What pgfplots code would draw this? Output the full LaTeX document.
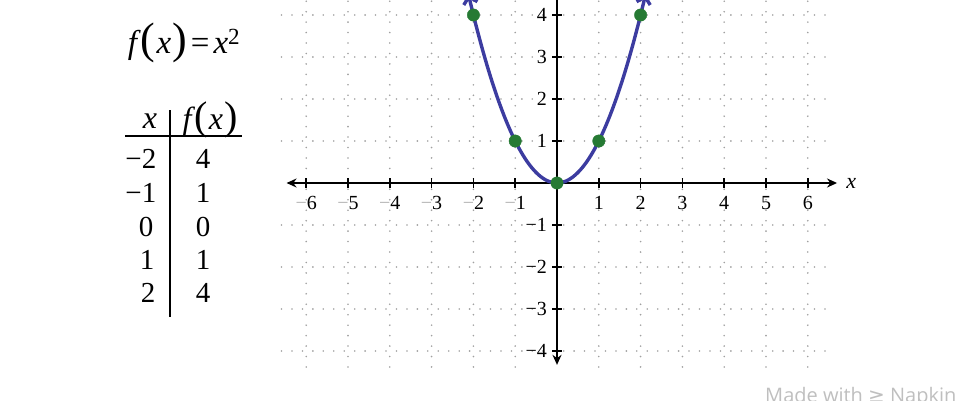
\documentclass[border=0pt]{standalone}
\usepackage{fontspec}
\setmainfont{Liberation Serif}
\newfontfamily\wmfont{Open Sans}
\newfontfamily\symfont{DejaVu Sans}
\usepackage{pgfplots}
\pgfplotsset{compat=1.18}
\usetikzlibrary{arrows.meta}
\definecolor{curveblue}{RGB}{60,60,160}
\definecolor{ptgreen}{RGB}{38,122,52}
\definecolor{gridgray}{RGB}{160,160,160}
\newcommand{\bp}[1]{{\fontsize{44}{44}\selectfont #1}}
\newcommand{\bpt}[1]{{\fontsize{40}{40}\selectfont #1}}
\begin{document}
\begin{tikzpicture}[x=1pt,y=1pt]
\begin{axis}[
  set layers,
  at={(557pt,217pt)}, anchor=origin,
  x=41.8pt, y=42pt,
  xmin=-6.47, xmax=6.70, ymin=-4.33, ymax=4.8,
  axis lines=middle,
  clip=false,
  x axis line style={line width=1.8pt, {Stealth[length=10pt,width=9pt]}-{Stealth[length=10pt,width=9pt]}},
  y axis line style={line width=2.6pt, {Stealth[length=10pt,width=9pt]}-{Stealth[length=10pt,width=9pt]}},
  major tick length=10pt, tick align=center,
  tick style={black, line width=1.6pt},
  xtick={-6,-5,-4,-3,-2,-1,1,2,3,4,5,6},
  xticklabels={{\color{gray!60}−}6,{\color{gray!60}−}5,{\color{gray!60}−}4,{\color{gray!60}−}3,{\color{gray!60}−}2,{\color{gray!60}−}1,1,2,3,4,5,6},
  ytick={-4,-3,-2,-1,1,2,3,4},
  yticklabels={−4,−3,−2,−1,1,2,3,4},
  xticklabel style={anchor=center, inner sep=0pt, yshift=-15pt, font=\fontsize{20}{22}\selectfont},
  yticklabel style={anchor=east, inner sep=0pt, xshift=-5pt, font=\fontsize{20}{22}\selectfont},
  xlabel={\itshape x},
  xlabel style={anchor=west, inner sep=0pt, xshift=9pt, font=\fontsize{22}{24}\selectfont},
]
\begin{pgfonlayer}{axis background}
\pgfplotsinvokeforeach{-6,-5,-4,-3,-2,-1,1,2,3,4,5,6}{
  \draw[gridgray, line width=1.8pt, line cap=round, dash pattern=on 0pt off 10.45pt] (axis cs:#1,-4.38) -- (axis cs:#1,4.8);
}
\pgfplotsinvokeforeach{-4,-3,-2,-1,1,2,3,4}{
  \draw[gridgray, line width=1.8pt, line cap=round, dash pattern=on 0pt off 10.45pt] (axis cs:-6.59,#1) -- (axis cs:6.53,#1);
}
\end{pgfonlayer}
\addplot[curveblue, line width=3.4pt, smooth, {Straight Barb[length=7pt,width=14pt]}-{Straight Barb[length=7pt,width=14pt]}] coordinates {
(-2.12,4.4944) (-2.0,4.0) (-1.9,3.61) (-1.8,3.24) (-1.7,2.89) (-1.6,2.56) (-1.5,2.25) (-1.4,1.96) (-1.3,1.69) (-1.2,1.44) (-1.1,1.21) (-1.0,1.0) (-0.9,0.81) (-0.8,0.64) (-0.7,0.49) (-0.6,0.36) (-0.5,0.25) (-0.4,0.16) (-0.3,0.09) (-0.2,0.04) (-0.1,0.01) (0,0) (0.1,0.01) (0.2,0.04) (0.3,0.09) (0.4,0.16) (0.5,0.25) (0.6,0.36) (0.7,0.49) (0.8,0.64) (0.9,0.81) (1.0,1.0) (1.1,1.21) (1.2,1.44) (1.3,1.69) (1.4,1.96) (1.5,2.25) (1.6,2.56) (1.7,2.89) (1.8,3.24) (1.9,3.61) (2.0,4.0) (2.12,4.4944)
};
\addplot[only marks, mark=*, mark size=6.2pt, color=ptgreen] coordinates {(-2,4) (-1,1) (0,0) (1,1) (2,4)};
\end{axis}
% left formula and table
\node[font=\fontsize{33}{36}\selectfont] at (184,357) {\itshape f\upshape\kern4pt\bp{(}\kern1pt\itshape x\upshape\kern1pt\bp{)}\kern4pt=\kern4pt\itshape x\upshape\textsuperscript{2}};
\node[font=\fontsize{32}{34}\selectfont] at (150,279) {\itshape x};
\node[font=\fontsize{32}{34}\selectfont] at (210,280) {\itshape f\upshape\kern3pt\bpt{(}\kern1pt\itshape x\upshape\kern1pt\bpt{)}};
\draw[line width=1.4pt] (125,264) -- (242,264);
\draw[line width=1.4pt] (170,290) -- (170,83);
\begin{scope}[every node/.style={font=\fontsize{29}{32}\selectfont}]
\node at (149,241) {\makebox[0pt][r]{−}2};
\node at (149,207) {\makebox[0pt][r]{−}1};
\node at (146,173) {0};
\node at (147,140) {1};
\node at (148,107) {2};
\node at (203,241) {4};
\node at (203,207) {1};
\node at (203,173) {0};
\node at (203,140) {1};
\node at (203,107) {4};
\end{scope}
\node[anchor=base west, text=gray!50, font=\wmfont\fontsize{20}{22}\selectfont, inner sep=0pt] at (765,-2) {Made with {\symfont ≥} Napkin};
\pgfresetboundingbox
\path[use as bounding box] (0,0) rectangle (978,400);
\end{tikzpicture}
\end{document}
